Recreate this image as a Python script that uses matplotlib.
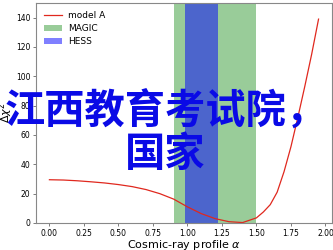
import matplotlib
matplotlib.use('Agg')
import matplotlib.pyplot as plt

# chi-square scan vs cosmic-ray profile alpha
alpha = [0.0, 0.1, 0.2, 0.3, 0.4, 0.5, 0.6, 0.7, 0.8, 0.9,
         1.0, 1.1, 1.2, 1.3, 1.4, 1.5, 1.55, 1.6, 1.65, 1.7,
         1.75, 1.8, 1.85, 1.9, 1.95]
delta_chi2 = [29.5, 29.3, 28.8, 28.1, 27.3, 26.2, 24.8, 22.8, 20.0, 16.3,
              11.0, 6.4, 3.0, 0.9, 0.3, 3.5, 7.5, 12.5, 21.0, 35.0,
              52.0, 72.0, 93.0, 115.0, 139.0]

magic_range = [0.90, 1.50]
hess_range = [0.98, 1.22]

overlay_text = "江西教育考试院，\n国家"

fig = plt.figure(figsize=(3.33, 2.5), dpi=100)
ax = fig.add_axes([0.108, 0.108, 0.889, 0.88])

ax.plot(alpha, delta_chi2, color='#e0281e', lw=0.9, label='model A')
ax.axvspan(magic_range[0], magic_range[1], color='green', alpha=0.4, lw=0, label='MAGIC')
ax.axvspan(hess_range[0], hess_range[1], color='blue', alpha=0.5, lw=0, label='HESS')

ax.set_ylim(0, 150)
ax.set_xlabel(r'Cosmic-ray profile $\alpha$', fontsize=8, labelpad=0)
ax.set_ylabel(r'$\Delta\chi^2$', fontsize=8)
ax.yaxis.set_label_coords(-0.072, 0.5)
ax.tick_params(labelsize=5.5, length=2.5, width=0.6, color='#666666', pad=1.5)
for s in ax.spines.values():
    s.set_color('#888888')
    s.set_linewidth(0.8)

ax.legend(loc='upper left', frameon=False, fontsize=6.5, handlelength=2.0,
          labelspacing=0.45, borderaxespad=0.5, handletextpad=0.7)

# big blue watermark on top of everything
fig.text(0.497, 0.467, overlay_text, ha='center', va='center', fontsize=29,
         fontweight='bold', color='#0a0ae6', linespacing=1.05,
         family=['Noto Sans CJK SC', 'DejaVu Sans'])

fig.savefig('out.png', dpi=100)
